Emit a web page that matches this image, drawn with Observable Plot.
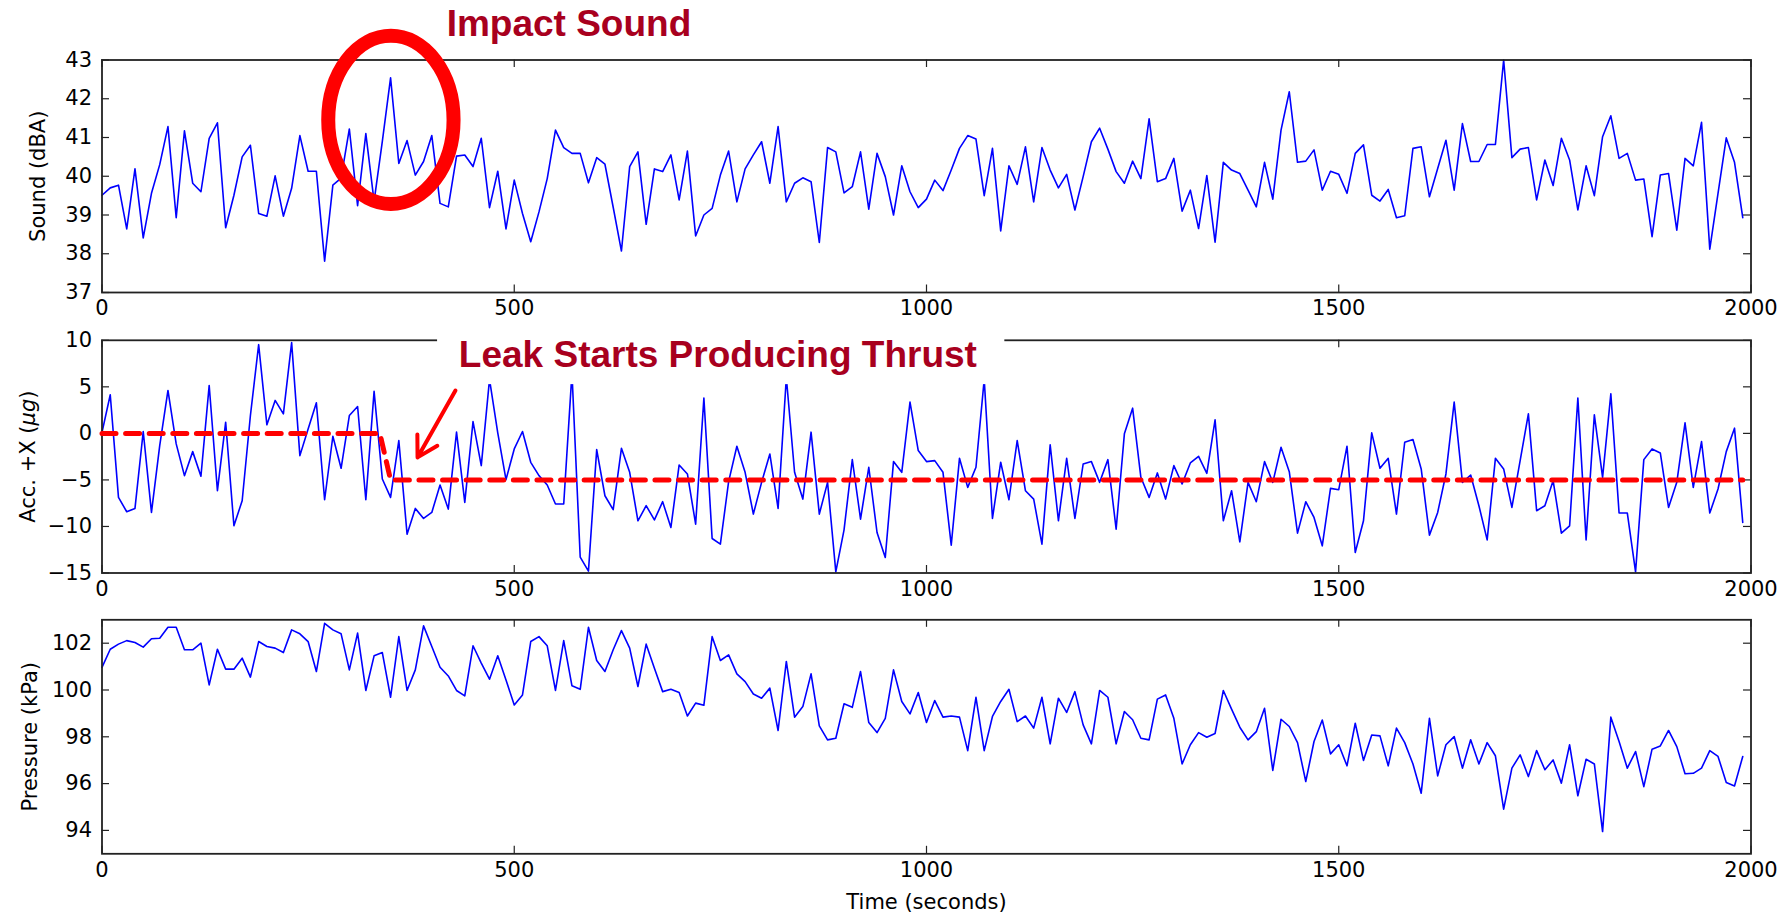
<!DOCTYPE html>
<html><head><meta charset="utf-8">
<script src="https://cdn.jsdelivr.net/npm/d3@7"></script>
<script src="https://cdn.jsdelivr.net/npm/@observablehq/plot@0.6"></script>
<style>
html,body{margin:0;padding:0;background:#fff;}
#wrap{position:relative;width:1787px;height:916px;overflow:hidden;background:#fff;}
#wrap svg{position:absolute;left:0;overflow:visible;}
</style></head><body><div id="wrap"></div>
<script>
// ---- data (time in seconds, sampled every 10 s) ----
const time = [
0,10,20,30,40,50,60,70,80,90,100,110,120,130,140,150,160,170,180,190,
200,210,220,230,240,250,260,270,280,290,300,310,320,330,340,350,360,370,380,390,
400,410,420,430,440,450,460,470,480,490,500,510,520,530,540,550,560,570,580,590,
600,610,620,630,640,650,660,670,680,690,700,710,720,730,740,750,760,770,780,790,
800,810,820,830,840,850,860,870,880,890,900,910,920,930,940,950,960,970,980,990,
1000,1010,1020,1030,1040,1050,1060,1070,1080,1090,1100,1110,1120,1130,1140,1150,1160,1170,1180,1190,
1200,1210,1220,1230,1240,1250,1260,1270,1280,1290,1300,1310,1320,1330,1340,1350,1360,1370,1380,1390,
1400,1410,1420,1430,1440,1450,1460,1470,1480,1490,1500,1510,1520,1530,1540,1550,1560,1570,1580,1590,
1600,1610,1620,1630,1640,1650,1660,1670,1680,1690,1700,1710,1720,1730,1740,1750,1760,1770,1780,1790,
1800,1810,1820,1830,1840,1850,1860,1870,1880,1890,1900,1910,1920,1930,1940,1950,1960,1970,1980,1990];

const sound = [
39.51,39.70,39.77,38.64,40.19,38.41,39.56,40.30,41.28,38.93,41.17,39.82,39.60,40.98,41.38,38.67,39.51,40.50,40.80,39.04,
38.97,40.01,38.97,39.69,41.05,40.13,40.13,37.81,39.77,39.95,41.22,39.24,41.10,39.35,40.90,42.54,40.33,40.92,40.03,40.38,
41.05,39.30,39.21,40.52,40.55,40.25,40.98,39.19,40.13,38.64,39.90,39.04,38.31,39.08,39.94,41.19,40.74,40.59,40.59,39.83,
40.48,40.31,39.20,38.07,40.25,40.63,38.76,40.19,40.12,40.55,39.39,40.65,38.46,39.00,39.17,40.03,40.65,39.34,40.19,40.55,
40.89,39.82,41.28,39.34,39.82,39.96,39.86,38.29,40.74,40.63,39.57,39.73,40.63,39.15,40.59,39.99,39.00,40.27,39.60,39.19,
39.41,39.90,39.63,40.16,40.72,41.05,40.96,39.50,40.72,38.59,40.27,39.79,40.76,39.34,40.74,40.16,39.70,40.05,39.13,39.99,
40.89,41.24,40.70,40.12,39.82,40.39,39.94,41.48,39.86,39.94,40.46,39.10,39.64,38.65,40.02,38.30,40.36,40.16,40.07,39.64,
39.21,40.36,39.41,41.19,42.18,40.36,40.39,40.68,39.64,40.13,40.05,39.56,40.59,40.81,39.51,39.36,39.66,38.93,38.98,40.72,
40.76,39.47,40.20,40.93,39.64,41.36,40.38,40.38,40.82,40.82,43.00,40.48,40.70,40.74,39.39,40.42,39.76,40.98,40.42,39.13,
40.27,39.50,41.02,41.56,40.46,40.59,39.90,39.93,38.44,40.03,40.07,38.61,40.46,40.27,41.39,38.12,39.56,40.99,40.36,38.93];

const accel = [
0.1,4.15,-6.88,-8.42,-8.06,0.2,-8.49,-1.31,4.61,-1.13,-4.54,-1.96,-4.61,5.15,-6.16,1.2,-9.93,-7.24,1.92,9.53,
0.92,3.54,2.1,9.75,-2.39,0.48,3.29,-7.13,-0.31,-3.75,1.92,2.89,-7.13,4.51,-4.9,-6.88,-0.77,-10.83,-8.06,-9.14,
-8.49,-5.55,-8.13,0.13,-7.41,1.27,-3.46,5.8,0.05,-4.97,-1.67,0.2,-3.11,-4.54,-5.55,-7.59,-7.59,6.5,-13.3,-14.8,
-1.74,-6.7,-8.2,-1.6,-4.18,-9.39,-7.77,-9.3,-7.34,-10.1,-3.39,-4.36,-9.75,3.79,-11.29,-11.9,-5.19,-1.38,-4.18,-8.67,
-5.26,-2.21,-8.06,6.0,-4.18,-7.06,0.13,-8.67,-5.26,-14.88,-10.36,-2.82,-9.21,-3.64,-10.65,-13.34,-3.03,-4.18,3.36,-1.85,
-3.03,-2.93,-4.18,-12.01,-2.68,-5.8,-3.64,5.8,-9.14,-3.1,-7.13,-0.77,-6.16,-7.06,-11.9,-1.24,-9.39,-2.68,-9.14,-3.29,
-3.03,-5.26,-2.82,-10.29,-0.05,2.71,-4.72,-6.88,-4.25,-7.06,-3.46,-5.44,-3.18,-2.46,-4.3,1.45,-9.39,-6.16,-11.65,-5.26,
-7.34,-3.03,-5.26,-1.49,-4.11,-10.72,-7.34,-9.03,-12.08,-5.91,-6.05,-1.38,-12.8,-9.39,0.05,-3.75,-2.68,-8.67,-0.95,-0.66,
-3.82,-10.93,-8.49,-4.36,3.36,-5.26,-4.47,-7.77,-11.44,-2.68,-3.82,-7.95,-2.93,2.1,-8.31,-7.77,-5.08,-10.72,-9.93,3.79,
-11.44,1.99,-4.72,4.25,-8.56,-8.56,-14.88,-2.82,-1.67,-2.1,-7.95,-5.26,1.13,-5.8,-0.88,-8.56,-5.98,-1.96,0.56,-9.57];

const pressure = [
100.97,101.74,101.96,102.11,102.03,101.83,102.19,102.21,102.68,102.68,101.72,101.72,102.0,100.22,101.74,100.89,100.89,101.36,100.55,102.07,
101.86,101.79,101.6,102.57,102.4,102.07,100.79,102.85,102.57,102.4,100.86,102.43,99.98,101.46,101.6,99.69,102.28,99.98,100.86,102.74,
101.86,100.97,100.6,99.98,99.75,101.89,101.15,100.46,101.46,100.43,99.36,99.79,102.07,102.28,101.89,99.98,102.11,100.18,100.03,102.68,
101.26,100.79,101.72,102.54,101.79,100.15,101.96,100.93,99.93,100.03,99.89,98.89,99.44,99.35,102.28,101.26,101.5,100.69,100.36,99.83,
99.65,100.08,98.27,101.22,98.84,99.29,100.69,98.47,97.87,97.94,99.41,99.26,100.79,98.61,98.18,98.79,100.86,99.51,98.98,99.89,
98.61,99.55,98.84,98.89,98.84,97.41,99.69,97.41,98.87,99.51,100.03,98.65,98.89,98.37,99.69,97.7,99.65,99.04,99.93,98.51,
97.7,99.98,99.69,97.7,99.08,98.73,97.94,97.87,99.61,99.79,98.79,96.84,97.66,98.18,97.98,98.14,99.98,99.18,98.41,97.87,
98.22,99.22,96.56,98.75,98.44,97.75,96.09,97.8,98.72,97.27,97.66,96.76,98.58,96.99,98.08,98.04,96.76,98.37,97.75,96.84,
95.59,98.79,96.33,97.66,98.01,96.66,97.87,96.84,97.75,97.19,94.91,96.66,97.23,96.3,97.41,96.59,97.01,96.02,97.66,95.48,
97.04,96.84,93.95,98.84,97.8,96.66,97.37,95.87,97.47,97.61,98.27,97.58,96.42,96.44,96.66,97.41,97.16,96.05,95.9,97.16];

// expected thrust level (dashed)
const thrustTime = [0, 337, 350, 1990];
const thrustLevel = [0, 0, -5, -5];

const xTicks = [0, 500, 1000, 1500, 2000];
const soundTicks = [37, 38, 39, 40, 41, 42, 43];
const accelTicks = [-15, -10, -5, 0, 5, 10];
const pressureTicks = [94, 96, 98, 100, 102];

// annotations (in data units)
const impactLabel = [{t: 418, text: "Impact Sound"}];
const impactRing = {t: 351, db: 41.44, rt: 76, rdb: 2.17};
const leakLabel = [{t: 747, text: "Leak Starts Producing Thrust"}];
const leakBox = [{t1: 407, t2: 1095, v1: 5.24, v2: 12.3}];
const leakArrow = [{t1: 428.7, v1: 4.6, t2: 382.7, v2: -2.58}];

// ---- drawing ----
const W = 1787, ML = 101.5, MR = 36.5;
const TICKFONT = 21;
const fmt = d => d < 0 ? "\u2212" + Math.abs(d) : String(d);
const wrap = document.getElementById("wrap");

function panel({values, yDomain, yTicks, top, height, mt, mb, ylabel, labelX, before = [], after = []}) {
  const rows = time.map((t, i) => ({t, v: values[i]}));
  const ph = height - mt - mb, pw = W - ML - MR, tl = 7.5;
  const p = Plot.plot({
    width: W, height, marginLeft: ML, marginRight: MR, marginTop: mt, marginBottom: mb,
    style: {fontFamily: "DejaVu Sans, sans-serif", fontSize: TICKFONT + "px", background: "transparent", color: "#000"},
    x: {domain: [0, 2000]},
    y: {domain: yDomain},
    marks: [
      ...before,
      Plot.line(rows, {x: "t", y: "v", stroke: "#0000ff", strokeWidth: 1.6}),
      Plot.frame({stroke: "#222", strokeWidth: 1.8}),
      Plot.tickX(xTicks, {x: d => d, stroke: "#222", strokeWidth: 1.2, insetTop: ph - tl}),
      Plot.tickX(xTicks, {x: d => d, stroke: "#222", strokeWidth: 1.2, insetBottom: ph - tl}),
      Plot.tickY(yTicks, {y: d => d, stroke: "#222", strokeWidth: 1.2, insetRight: pw - tl}),
      Plot.tickY(yTicks, {y: d => d, stroke: "#222", strokeWidth: 1.2, insetLeft: pw - tl}),
      Plot.axisX(xTicks, {tickSize: 0, tickPadding: 8, tickFormat: fmt, label: null, fontSize: TICKFONT}),
      Plot.axisY(yTicks, {tickSize: 0, tickPadding: 10, tickFormat: fmt, label: null, fontSize: TICKFONT}),
      Plot.text([ylabel], {frameAnchor: "left", dx: -(ML - labelX), rotate: -90, fontSize: TICKFONT, textAnchor: "middle", lineAnchor: "middle", fill: "#000"}),
      ...after
    ]
  });
  p.style.top = top + "px";
  wrap.appendChild(p);
  return p;
}

const annFont = "Liberation Sans, Arial, Helvetica, sans-serif";

const p1 = panel({
  values: sound, yDomain: [37, 43], yTicks: soundTicks, top: 0, height: 320, mt: 59.5, mb: 28,
  ylabel: "Sound (dBA)", labelX: 38,
  after: [
    Plot.text(impactLabel, {x: "t", text: "text", frameAnchor: "top", dy: -50, textAnchor: "start",
      fill: "#a8001e", fontWeight: "bold", fontSize: 37, fontFamily: annFont})
  ]
});

const p2 = panel({
  values: accel, yDomain: [-15, 10], yTicks: accelTicks, top: 320, height: 280, mt: 19.8, mb: 27.5,
  ylabel: "Acc. +X (\u03bcg)", labelX: 28,
  before: [],
  after: [
    Plot.line(thrustTime.map((t, i) => ({t, v: thrustLevel[i]})), {x: "t", y: "v", stroke: "#ff0000", strokeWidth: 5, strokeDasharray: "14,9.6"}),
    Plot.rect(leakBox, {x1: "t1", x2: "t2", y1: "v1", y2: "v2", fill: "white"}),
    Plot.text(leakLabel, {x: "t", text: "text", frameAnchor: "top", dy: 0, textAnchor: "middle",
      fill: "#a8001e", fontWeight: "bold", fontSize: 37, fontFamily: annFont}),
    Plot.arrow(leakArrow, {x1: "t1", y1: "v1", x2: "t2", y2: "v2", stroke: "#ff0000", strokeWidth: 4, headLength: 8.6})
  ]
});

const p3 = panel({
  values: pressure, yDomain: [93, 103], yTicks: pressureTicks, top: 600, height: 316, mt: 19.3, mb: 62.7,
  ylabel: "Pressure (kPa)", labelX: 30,
  after: [
    Plot.text(["Time (seconds)"], {x: 1000, frameAnchor: "bottom", dy: 55.5, fontSize: TICKFONT, textAnchor: "middle", fill: "#000"})
  ]
});

// italic mu-g in the acceleration label
d3.select(p2).selectAll("text").filter(function () { return this.textContent === "Acc. +X (\u03bcg)"; })
  .each(function () {
    const t = d3.select(this); t.text(null);
    t.append("tspan").text("Acc. +X (");
    t.append("tspan").attr("font-style", "italic").text("\u03bcg");
    t.append("tspan").text(")");
  });

// red ring around the impact spike, placed with the panel's own scales
function scaleFn(s) { return s.apply ? (v => s.apply(v)) : d3.scaleLinear(s.domain, s.range); }
const sx = scaleFn(p1.scale("x")), sy = scaleFn(p1.scale("y"));
const cx = sx(impactRing.t), cy = sy(impactRing.db);
const rx = sx(impactRing.t + impactRing.rt) - cx, ry = cy - sy(impactRing.db + impactRing.rdb);
d3.select(p1).append("ellipse")
  .attr("cx", cx).attr("cy", cy).attr("rx", rx).attr("ry", ry)
  .attr("fill", "none").attr("stroke", "#ff0000").attr("stroke-width", 14);
</script></body></html>
